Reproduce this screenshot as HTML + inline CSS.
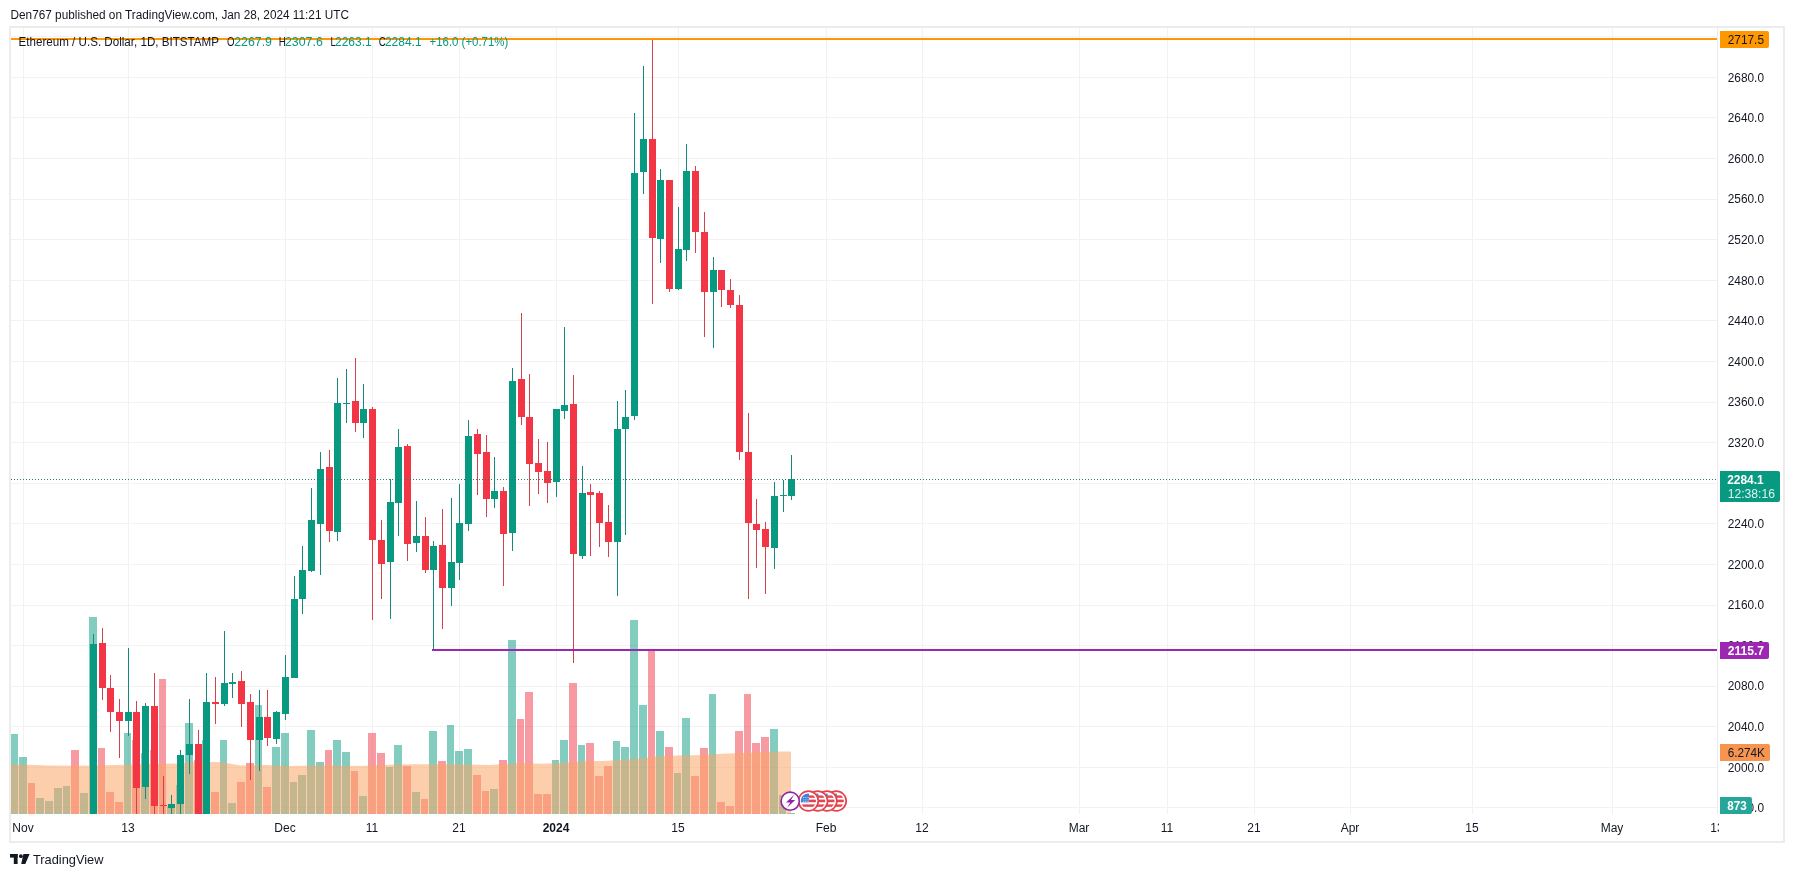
<!DOCTYPE html><html><head><meta charset="utf-8"><style>
html,body{margin:0;padding:0;background:#fff;width:1794px;height:877px;overflow:hidden;}
svg{position:absolute;left:0;top:0;will-change:transform;}
text{font-family:"Liberation Sans", sans-serif;}
</style></head><body>
<svg width="1794" height="877" viewBox="0 0 1794 877">
<defs><clipPath id="pane"><rect x="11" y="28" width="1706" height="786"/></clipPath>
<clipPath id="taxis"><rect x="11" y="814" width="1708" height="27"/></clipPath></defs>
<text x="10.5" y="19" font-size="12" fill="#131722" id="hdr" textLength="338.5" lengthAdjust="spacingAndGlyphs">Den767 published on TradingView.com, Jan 28, 2024 11:21 UTC</text>
<rect x="10" y="27" width="1774" height="815" fill="none" stroke="#ececec" stroke-width="2"/>
<g clip-path="url(#pane)" shape-rendering="crispEdges">
<rect x="11" y="807" width="1706" height="1" fill="#f2f2f2"/>
<rect x="11" y="767" width="1706" height="1" fill="#f2f2f2"/>
<rect x="11" y="726" width="1706" height="1" fill="#f2f2f2"/>
<rect x="11" y="686" width="1706" height="1" fill="#f2f2f2"/>
<rect x="11" y="645" width="1706" height="1" fill="#f2f2f2"/>
<rect x="11" y="605" width="1706" height="1" fill="#f2f2f2"/>
<rect x="11" y="564" width="1706" height="1" fill="#f2f2f2"/>
<rect x="11" y="523" width="1706" height="1" fill="#f2f2f2"/>
<rect x="11" y="483" width="1706" height="1" fill="#f2f2f2"/>
<rect x="11" y="442" width="1706" height="1" fill="#f2f2f2"/>
<rect x="11" y="402" width="1706" height="1" fill="#f2f2f2"/>
<rect x="11" y="361" width="1706" height="1" fill="#f2f2f2"/>
<rect x="11" y="320" width="1706" height="1" fill="#f2f2f2"/>
<rect x="11" y="280" width="1706" height="1" fill="#f2f2f2"/>
<rect x="11" y="239" width="1706" height="1" fill="#f2f2f2"/>
<rect x="11" y="199" width="1706" height="1" fill="#f2f2f2"/>
<rect x="11" y="158" width="1706" height="1" fill="#f2f2f2"/>
<rect x="11" y="117" width="1706" height="1" fill="#f2f2f2"/>
<rect x="11" y="77" width="1706" height="1" fill="#f2f2f2"/>
<rect x="11" y="36" width="1706" height="1" fill="#f2f2f2"/>
<rect x="23" y="28" width="1" height="786" fill="#f2f2f2"/>
<rect x="128" y="28" width="1" height="786" fill="#f2f2f2"/>
<rect x="285" y="28" width="1" height="786" fill="#f2f2f2"/>
<rect x="372" y="28" width="1" height="786" fill="#f2f2f2"/>
<rect x="459" y="28" width="1" height="786" fill="#f2f2f2"/>
<rect x="556" y="28" width="1" height="786" fill="#f2f2f2"/>
<rect x="678" y="28" width="1" height="786" fill="#f2f2f2"/>
<rect x="826" y="28" width="1" height="786" fill="#f2f2f2"/>
<rect x="922" y="28" width="1" height="786" fill="#f2f2f2"/>
<rect x="1079" y="28" width="1" height="786" fill="#f2f2f2"/>
<rect x="1167" y="28" width="1" height="786" fill="#f2f2f2"/>
<rect x="1254" y="28" width="1" height="786" fill="#f2f2f2"/>
<rect x="1350" y="28" width="1" height="786" fill="#f2f2f2"/>
<rect x="1472" y="28" width="1" height="786" fill="#f2f2f2"/>
<rect x="1612" y="28" width="1" height="786" fill="#f2f2f2"/>
<rect x="1717" y="28" width="1" height="786" fill="#f2f2f2"/>
<rect x="10" y="734" width="8" height="80" fill="rgba(8,153,129,0.5)"/>
<rect x="19" y="757" width="8" height="57" fill="rgba(8,153,129,0.5)"/>
<rect x="28" y="783" width="7" height="31" fill="rgba(242,54,69,0.5)"/>
<rect x="36" y="798" width="8" height="16" fill="rgba(8,153,129,0.5)"/>
<rect x="45" y="801" width="8" height="13" fill="rgba(8,153,129,0.5)"/>
<rect x="54" y="788" width="8" height="26" fill="rgba(8,153,129,0.5)"/>
<rect x="63" y="786" width="7" height="28" fill="rgba(8,153,129,0.5)"/>
<rect x="71" y="750" width="8" height="64" fill="rgba(242,54,69,0.5)"/>
<rect x="80" y="793" width="8" height="21" fill="rgba(8,153,129,0.5)"/>
<rect x="89" y="617" width="8" height="197" fill="rgba(8,153,129,0.5)"/>
<rect x="98" y="748" width="7" height="66" fill="rgba(242,54,69,0.5)"/>
<rect x="106" y="792" width="8" height="22" fill="rgba(242,54,69,0.5)"/>
<rect x="115" y="802" width="8" height="12" fill="rgba(242,54,69,0.5)"/>
<rect x="124" y="733" width="7" height="81" fill="rgba(8,153,129,0.5)"/>
<rect x="132" y="740" width="8" height="74" fill="rgba(242,54,69,0.5)"/>
<rect x="141" y="753" width="8" height="61" fill="rgba(8,153,129,0.5)"/>
<rect x="150" y="750" width="8" height="64" fill="rgba(242,54,69,0.5)"/>
<rect x="159" y="679" width="7" height="135" fill="rgba(242,54,69,0.5)"/>
<rect x="167" y="806" width="8" height="8" fill="rgba(8,153,129,0.5)"/>
<rect x="176" y="785" width="8" height="29" fill="rgba(8,153,129,0.5)"/>
<rect x="185" y="723" width="8" height="91" fill="rgba(8,153,129,0.5)"/>
<rect x="194" y="760" width="7" height="54" fill="rgba(242,54,69,0.5)"/>
<rect x="202" y="740" width="8" height="74" fill="rgba(8,153,129,0.5)"/>
<rect x="211" y="792" width="8" height="22" fill="rgba(242,54,69,0.5)"/>
<rect x="220" y="740" width="7" height="74" fill="rgba(8,153,129,0.5)"/>
<rect x="228" y="803" width="8" height="11" fill="rgba(8,153,129,0.5)"/>
<rect x="237" y="782" width="8" height="32" fill="rgba(242,54,69,0.5)"/>
<rect x="246" y="763" width="8" height="51" fill="rgba(242,54,69,0.5)"/>
<rect x="255" y="705" width="7" height="109" fill="rgba(8,153,129,0.5)"/>
<rect x="263" y="787" width="8" height="27" fill="rgba(242,54,69,0.5)"/>
<rect x="272" y="747" width="8" height="67" fill="rgba(8,153,129,0.5)"/>
<rect x="281" y="733" width="8" height="81" fill="rgba(8,153,129,0.5)"/>
<rect x="290" y="782" width="7" height="32" fill="rgba(8,153,129,0.5)"/>
<rect x="298" y="775" width="8" height="39" fill="rgba(8,153,129,0.5)"/>
<rect x="307" y="730" width="8" height="84" fill="rgba(8,153,129,0.5)"/>
<rect x="316" y="762" width="8" height="52" fill="rgba(8,153,129,0.5)"/>
<rect x="325" y="750" width="7" height="64" fill="rgba(242,54,69,0.5)"/>
<rect x="333" y="740" width="8" height="74" fill="rgba(8,153,129,0.5)"/>
<rect x="342" y="752" width="8" height="62" fill="rgba(8,153,129,0.5)"/>
<rect x="351" y="771" width="7" height="43" fill="rgba(242,54,69,0.5)"/>
<rect x="359" y="796" width="8" height="18" fill="rgba(8,153,129,0.5)"/>
<rect x="368" y="733" width="8" height="81" fill="rgba(242,54,69,0.5)"/>
<rect x="377" y="753" width="8" height="61" fill="rgba(242,54,69,0.5)"/>
<rect x="386" y="767" width="7" height="47" fill="rgba(8,153,129,0.5)"/>
<rect x="394" y="745" width="8" height="69" fill="rgba(8,153,129,0.5)"/>
<rect x="403" y="766" width="8" height="48" fill="rgba(242,54,69,0.5)"/>
<rect x="412" y="792" width="8" height="22" fill="rgba(8,153,129,0.5)"/>
<rect x="421" y="799" width="7" height="15" fill="rgba(242,54,69,0.5)"/>
<rect x="429" y="731" width="8" height="83" fill="rgba(8,153,129,0.5)"/>
<rect x="438" y="761" width="8" height="53" fill="rgba(242,54,69,0.5)"/>
<rect x="447" y="725" width="7" height="89" fill="rgba(8,153,129,0.5)"/>
<rect x="455" y="751" width="8" height="63" fill="rgba(8,153,129,0.5)"/>
<rect x="464" y="749" width="8" height="65" fill="rgba(8,153,129,0.5)"/>
<rect x="473" y="775" width="8" height="39" fill="rgba(242,54,69,0.5)"/>
<rect x="482" y="791" width="7" height="23" fill="rgba(242,54,69,0.5)"/>
<rect x="490" y="789" width="8" height="25" fill="rgba(8,153,129,0.5)"/>
<rect x="499" y="760" width="8" height="54" fill="rgba(242,54,69,0.5)"/>
<rect x="508" y="640" width="8" height="174" fill="rgba(8,153,129,0.5)"/>
<rect x="517" y="719" width="7" height="95" fill="rgba(242,54,69,0.5)"/>
<rect x="525" y="692" width="8" height="122" fill="rgba(242,54,69,0.5)"/>
<rect x="534" y="794" width="8" height="20" fill="rgba(242,54,69,0.5)"/>
<rect x="543" y="794" width="8" height="20" fill="rgba(242,54,69,0.5)"/>
<rect x="552" y="760" width="7" height="54" fill="rgba(8,153,129,0.5)"/>
<rect x="560" y="740" width="8" height="74" fill="rgba(8,153,129,0.5)"/>
<rect x="569" y="683" width="8" height="131" fill="rgba(242,54,69,0.5)"/>
<rect x="578" y="745" width="7" height="69" fill="rgba(8,153,129,0.5)"/>
<rect x="586" y="743" width="8" height="71" fill="rgba(242,54,69,0.5)"/>
<rect x="595" y="776" width="8" height="38" fill="rgba(242,54,69,0.5)"/>
<rect x="604" y="766" width="8" height="48" fill="rgba(242,54,69,0.5)"/>
<rect x="613" y="741" width="7" height="73" fill="rgba(8,153,129,0.5)"/>
<rect x="621" y="747" width="8" height="67" fill="rgba(8,153,129,0.5)"/>
<rect x="630" y="620" width="8" height="194" fill="rgba(8,153,129,0.5)"/>
<rect x="639" y="705" width="8" height="109" fill="rgba(8,153,129,0.5)"/>
<rect x="648" y="650" width="7" height="164" fill="rgba(242,54,69,0.5)"/>
<rect x="656" y="731" width="8" height="83" fill="rgba(8,153,129,0.5)"/>
<rect x="665" y="747" width="8" height="67" fill="rgba(242,54,69,0.5)"/>
<rect x="674" y="773" width="7" height="41" fill="rgba(8,153,129,0.5)"/>
<rect x="682" y="718" width="8" height="96" fill="rgba(8,153,129,0.5)"/>
<rect x="691" y="776" width="8" height="38" fill="rgba(242,54,69,0.5)"/>
<rect x="700" y="748" width="8" height="66" fill="rgba(242,54,69,0.5)"/>
<rect x="709" y="694" width="7" height="120" fill="rgba(8,153,129,0.5)"/>
<rect x="717" y="802" width="8" height="12" fill="rgba(242,54,69,0.5)"/>
<rect x="726" y="806" width="8" height="8" fill="rgba(242,54,69,0.5)"/>
<rect x="735" y="731" width="8" height="83" fill="rgba(242,54,69,0.5)"/>
<rect x="744" y="694" width="7" height="120" fill="rgba(242,54,69,0.5)"/>
<rect x="752" y="743" width="8" height="71" fill="rgba(242,54,69,0.5)"/>
<rect x="761" y="737" width="8" height="77" fill="rgba(242,54,69,0.5)"/>
<rect x="770" y="729" width="8" height="85" fill="rgba(8,153,129,0.5)"/>
<rect x="779" y="795" width="7" height="19" fill="rgba(8,153,129,0.5)"/>
<rect x="787" y="813" width="8" height="1" fill="rgba(8,153,129,0.5)"/>
</g>
<g clip-path="url(#pane)">
<polygon points="10.0,764.3 22.0,764.5 50.0,765.4 80.0,765.8 107.0,765.2 140.0,764.3 176.0,763.4 190.0,762.3 215.0,762.0 224.0,762.5 240.0,765.6 265.0,765.0 290.0,765.9 320.0,765.2 335.0,765.6 359.0,766.0 381.0,765.0 411.0,764.3 455.0,764.3 489.0,765.1 521.0,763.1 542.0,763.7 569.0,762.4 586.0,761.1 603.0,761.1 627.0,759.5 644.0,758.3 656.0,756.5 668.0,756.0 682.0,755.2 695.0,755.2 717.0,754.1 752.0,752.5 780.0,751.6 791.0,751.6 791,813.5 10,813.5" fill="rgba(251,166,104,0.55)"/>
</g>
<g clip-path="url(#pane)" shape-rendering="crispEdges">
<rect x="93" y="634" width="1" height="180" fill="#17897a"/>
<rect x="90" y="644" width="7" height="170" fill="#089981"/>
<rect x="102" y="628" width="1" height="72" fill="#d5404d"/>
<rect x="99" y="643" width="7" height="45" fill="#f23645"/>
<rect x="110" y="675" width="1" height="57" fill="#d5404d"/>
<rect x="107" y="688" width="7" height="24" fill="#f23645"/>
<rect x="119" y="699" width="1" height="59" fill="#d5404d"/>
<rect x="116" y="712" width="7" height="9" fill="#f23645"/>
<rect x="128" y="648" width="1" height="88" fill="#17897a"/>
<rect x="125" y="712" width="7" height="9" fill="#089981"/>
<rect x="136" y="701" width="1" height="113" fill="#d5404d"/>
<rect x="133" y="712" width="7" height="76" fill="#f23645"/>
<rect x="145" y="703" width="1" height="96" fill="#17897a"/>
<rect x="142" y="706" width="7" height="81" fill="#089981"/>
<rect x="154" y="673" width="1" height="141" fill="#d5404d"/>
<rect x="151" y="706" width="7" height="100" fill="#f23645"/>
<rect x="163" y="776" width="1" height="38" fill="#d5404d"/>
<rect x="160" y="805" width="7" height="1" fill="#f23645"/>
<rect x="171" y="795" width="1" height="19" fill="#17897a"/>
<rect x="168" y="804" width="7" height="4" fill="#089981"/>
<rect x="180" y="750" width="1" height="64" fill="#17897a"/>
<rect x="177" y="755" width="7" height="49" fill="#089981"/>
<rect x="189" y="699" width="1" height="75" fill="#17897a"/>
<rect x="186" y="744" width="7" height="11" fill="#089981"/>
<rect x="198" y="730" width="1" height="84" fill="#d5404d"/>
<rect x="195" y="744" width="7" height="70" fill="#f23645"/>
<rect x="206" y="673" width="1" height="141" fill="#17897a"/>
<rect x="203" y="702" width="7" height="112" fill="#089981"/>
<rect x="215" y="677" width="1" height="47" fill="#d5404d"/>
<rect x="212" y="702" width="7" height="2" fill="#f23645"/>
<rect x="224" y="631" width="1" height="75" fill="#17897a"/>
<rect x="221" y="683" width="7" height="21" fill="#089981"/>
<rect x="232" y="673" width="1" height="25" fill="#17897a"/>
<rect x="229" y="682" width="7" height="2" fill="#089981"/>
<rect x="241" y="671" width="1" height="56" fill="#d5404d"/>
<rect x="238" y="681" width="7" height="23" fill="#f23645"/>
<rect x="250" y="694" width="1" height="86" fill="#d5404d"/>
<rect x="247" y="702" width="7" height="38" fill="#f23645"/>
<rect x="259" y="690" width="1" height="81" fill="#17897a"/>
<rect x="256" y="717" width="7" height="23" fill="#089981"/>
<rect x="267" y="690" width="1" height="56" fill="#d5404d"/>
<rect x="264" y="717" width="7" height="21" fill="#f23645"/>
<rect x="276" y="711" width="1" height="33" fill="#17897a"/>
<rect x="273" y="712" width="7" height="27" fill="#089981"/>
<rect x="285" y="655" width="1" height="65" fill="#17897a"/>
<rect x="282" y="677" width="7" height="37" fill="#089981"/>
<rect x="294" y="576" width="1" height="102" fill="#17897a"/>
<rect x="291" y="599" width="7" height="79" fill="#089981"/>
<rect x="302" y="546" width="1" height="68" fill="#17897a"/>
<rect x="299" y="570" width="7" height="29" fill="#089981"/>
<rect x="311" y="488" width="1" height="84" fill="#17897a"/>
<rect x="308" y="520" width="7" height="51" fill="#089981"/>
<rect x="320" y="452" width="1" height="123" fill="#17897a"/>
<rect x="317" y="469" width="7" height="55" fill="#089981"/>
<rect x="329" y="450" width="1" height="92" fill="#d5404d"/>
<rect x="326" y="467" width="7" height="64" fill="#f23645"/>
<rect x="337" y="378" width="1" height="163" fill="#17897a"/>
<rect x="334" y="403" width="7" height="129" fill="#089981"/>
<rect x="346" y="369" width="1" height="54" fill="#17897a"/>
<rect x="343" y="403" width="7" height="1" fill="#089981"/>
<rect x="355" y="358" width="1" height="74" fill="#d5404d"/>
<rect x="352" y="401" width="7" height="22" fill="#f23645"/>
<rect x="363" y="384" width="1" height="54" fill="#17897a"/>
<rect x="360" y="409" width="7" height="14" fill="#089981"/>
<rect x="372" y="407" width="1" height="213" fill="#d5404d"/>
<rect x="369" y="409" width="7" height="131" fill="#f23645"/>
<rect x="381" y="520" width="1" height="79" fill="#d5404d"/>
<rect x="378" y="540" width="7" height="24" fill="#f23645"/>
<rect x="390" y="479" width="1" height="140" fill="#17897a"/>
<rect x="387" y="502" width="7" height="60" fill="#089981"/>
<rect x="398" y="429" width="1" height="107" fill="#17897a"/>
<rect x="395" y="447" width="7" height="56" fill="#089981"/>
<rect x="407" y="444" width="1" height="117" fill="#d5404d"/>
<rect x="404" y="446" width="7" height="98" fill="#f23645"/>
<rect x="416" y="501" width="1" height="51" fill="#17897a"/>
<rect x="413" y="536" width="7" height="7" fill="#089981"/>
<rect x="425" y="517" width="1" height="56" fill="#d5404d"/>
<rect x="422" y="536" width="7" height="34" fill="#f23645"/>
<rect x="433" y="541" width="1" height="108" fill="#17897a"/>
<rect x="430" y="546" width="7" height="24" fill="#089981"/>
<rect x="442" y="509" width="1" height="120" fill="#d5404d"/>
<rect x="439" y="545" width="7" height="43" fill="#f23645"/>
<rect x="451" y="498" width="1" height="108" fill="#17897a"/>
<rect x="448" y="562" width="7" height="26" fill="#089981"/>
<rect x="459" y="484" width="1" height="96" fill="#17897a"/>
<rect x="456" y="523" width="7" height="40" fill="#089981"/>
<rect x="468" y="420" width="1" height="111" fill="#17897a"/>
<rect x="465" y="436" width="7" height="88" fill="#089981"/>
<rect x="477" y="429" width="1" height="66" fill="#d5404d"/>
<rect x="474" y="434" width="7" height="20" fill="#f23645"/>
<rect x="486" y="435" width="1" height="82" fill="#d5404d"/>
<rect x="483" y="452" width="7" height="47" fill="#f23645"/>
<rect x="494" y="457" width="1" height="51" fill="#17897a"/>
<rect x="491" y="491" width="7" height="8" fill="#089981"/>
<rect x="503" y="487" width="1" height="99" fill="#d5404d"/>
<rect x="500" y="491" width="7" height="43" fill="#f23645"/>
<rect x="512" y="368" width="1" height="183" fill="#17897a"/>
<rect x="509" y="381" width="7" height="152" fill="#089981"/>
<rect x="521" y="313" width="1" height="112" fill="#d5404d"/>
<rect x="518" y="379" width="7" height="38" fill="#f23645"/>
<rect x="529" y="374" width="1" height="132" fill="#d5404d"/>
<rect x="526" y="417" width="7" height="47" fill="#f23645"/>
<rect x="538" y="439" width="1" height="55" fill="#d5404d"/>
<rect x="535" y="463" width="7" height="9" fill="#f23645"/>
<rect x="547" y="442" width="1" height="61" fill="#d5404d"/>
<rect x="544" y="471" width="7" height="12" fill="#f23645"/>
<rect x="556" y="409" width="1" height="88" fill="#17897a"/>
<rect x="553" y="409" width="7" height="73" fill="#089981"/>
<rect x="564" y="327" width="1" height="92" fill="#17897a"/>
<rect x="561" y="405" width="7" height="6" fill="#089981"/>
<rect x="573" y="375" width="1" height="288" fill="#d5404d"/>
<rect x="570" y="404" width="7" height="150" fill="#f23645"/>
<rect x="582" y="466" width="1" height="93" fill="#17897a"/>
<rect x="579" y="493" width="7" height="63" fill="#089981"/>
<rect x="590" y="484" width="1" height="72" fill="#d5404d"/>
<rect x="587" y="492" width="7" height="3" fill="#f23645"/>
<rect x="599" y="491" width="1" height="56" fill="#d5404d"/>
<rect x="596" y="493" width="7" height="30" fill="#f23645"/>
<rect x="608" y="505" width="1" height="52" fill="#d5404d"/>
<rect x="605" y="522" width="7" height="20" fill="#f23645"/>
<rect x="617" y="401" width="1" height="195" fill="#17897a"/>
<rect x="614" y="429" width="7" height="113" fill="#089981"/>
<rect x="625" y="390" width="1" height="145" fill="#17897a"/>
<rect x="622" y="417" width="7" height="12" fill="#089981"/>
<rect x="634" y="113" width="1" height="307" fill="#17897a"/>
<rect x="631" y="173" width="7" height="243" fill="#089981"/>
<rect x="643" y="66" width="1" height="128" fill="#17897a"/>
<rect x="640" y="139" width="7" height="33" fill="#089981"/>
<rect x="652" y="39" width="1" height="265" fill="#d5404d"/>
<rect x="649" y="139" width="7" height="99" fill="#f23645"/>
<rect x="660" y="169" width="1" height="94" fill="#17897a"/>
<rect x="657" y="180" width="7" height="59" fill="#089981"/>
<rect x="669" y="180" width="1" height="112" fill="#d5404d"/>
<rect x="666" y="180" width="7" height="109" fill="#f23645"/>
<rect x="678" y="207" width="1" height="83" fill="#17897a"/>
<rect x="675" y="249" width="7" height="40" fill="#089981"/>
<rect x="686" y="144" width="1" height="117" fill="#17897a"/>
<rect x="683" y="171" width="7" height="79" fill="#089981"/>
<rect x="695" y="166" width="1" height="87" fill="#d5404d"/>
<rect x="692" y="171" width="7" height="61" fill="#f23645"/>
<rect x="704" y="212" width="1" height="125" fill="#d5404d"/>
<rect x="701" y="232" width="7" height="60" fill="#f23645"/>
<rect x="713" y="257" width="1" height="91" fill="#17897a"/>
<rect x="710" y="270" width="7" height="22" fill="#089981"/>
<rect x="721" y="270" width="1" height="37" fill="#d5404d"/>
<rect x="718" y="270" width="7" height="20" fill="#f23645"/>
<rect x="730" y="279" width="1" height="29" fill="#d5404d"/>
<rect x="727" y="290" width="7" height="15" fill="#f23645"/>
<rect x="739" y="295" width="1" height="165" fill="#d5404d"/>
<rect x="736" y="305" width="7" height="147" fill="#f23645"/>
<rect x="748" y="413" width="1" height="186" fill="#d5404d"/>
<rect x="745" y="452" width="7" height="71" fill="#f23645"/>
<rect x="756" y="499" width="1" height="69" fill="#d5404d"/>
<rect x="753" y="524" width="7" height="6" fill="#f23645"/>
<rect x="765" y="522" width="1" height="72" fill="#d5404d"/>
<rect x="762" y="529" width="7" height="18" fill="#f23645"/>
<rect x="774" y="482" width="1" height="87" fill="#17897a"/>
<rect x="771" y="496" width="7" height="52" fill="#089981"/>
<rect x="783" y="480" width="1" height="32" fill="#17897a"/>
<rect x="780" y="495" width="7" height="1" fill="#089981"/>
<rect x="791" y="455" width="1" height="45" fill="#17897a"/>
<rect x="788" y="479" width="7" height="17" fill="#089981"/>
</g>
<g clip-path="url(#pane)" shape-rendering="crispEdges">
<rect x="11" y="38" width="1706" height="2" fill="#ff9800"/>
<rect x="432" y="649" width="1285" height="2" fill="#9c27b0"/>
<line x1="11" y1="479.5" x2="1717" y2="479.5" stroke="#2b7a6e" stroke-width="1" stroke-dasharray="1 2"/>
</g>
<text x="18.5" y="46" font-size="12" fill="#131722" id="legend" textLength="200.5" lengthAdjust="spacingAndGlyphs">Ethereum / U.S. Dollar, 1D, BITSTAMP</text>
<text x="227.0" y="46" font-size="12" fill="#131722" textLength="7.5" lengthAdjust="spacingAndGlyphs">O</text>
<text x="234.2" y="46" font-size="12" fill="#089981" textLength="37.8" lengthAdjust="spacingAndGlyphs">2267.9</text>
<text x="278.8" y="46" font-size="12" fill="#131722" textLength="7.1" lengthAdjust="spacingAndGlyphs">H</text>
<text x="285.0" y="46" font-size="12" fill="#089981" textLength="37.8" lengthAdjust="spacingAndGlyphs">2307.6</text>
<text x="330.5" y="46" font-size="12" fill="#131722" textLength="5.3" lengthAdjust="spacingAndGlyphs">L</text>
<text x="335.0" y="46" font-size="12" fill="#089981" textLength="36.7" lengthAdjust="spacingAndGlyphs">2263.1</text>
<text x="378.7" y="46" font-size="12" fill="#131722" textLength="7.1" lengthAdjust="spacingAndGlyphs">C</text>
<text x="384.9" y="46" font-size="12" fill="#089981" textLength="36.7" lengthAdjust="spacingAndGlyphs">2284.1</text>
<text x="429.5" y="46" font-size="12" fill="#089981" textLength="78.8" lengthAdjust="spacingAndGlyphs">+16.0 (+0.71%)</text>
<rect x="1717" y="28" width="1" height="786" fill="#ececec" shape-rendering="crispEdges"/>
<text x="1727.7" y="812.2" font-size="12" fill="#131722" textLength="36.3" lengthAdjust="spacingAndGlyphs">1960.0</text>
<text x="1727.7" y="771.6" font-size="12" fill="#131722" textLength="36.3" lengthAdjust="spacingAndGlyphs">2000.0</text>
<text x="1727.7" y="731.0" font-size="12" fill="#131722" textLength="36.3" lengthAdjust="spacingAndGlyphs">2040.0</text>
<text x="1727.7" y="690.4" font-size="12" fill="#131722" textLength="36.3" lengthAdjust="spacingAndGlyphs">2080.0</text>
<text x="1727.7" y="649.8" font-size="12" fill="#131722" textLength="36.3" lengthAdjust="spacingAndGlyphs">2120.0</text>
<text x="1727.7" y="609.2" font-size="12" fill="#131722" textLength="36.3" lengthAdjust="spacingAndGlyphs">2160.0</text>
<text x="1727.7" y="568.6" font-size="12" fill="#131722" textLength="36.3" lengthAdjust="spacingAndGlyphs">2200.0</text>
<text x="1727.7" y="528.0" font-size="12" fill="#131722" textLength="36.3" lengthAdjust="spacingAndGlyphs">2240.0</text>
<text x="1727.7" y="487.4" font-size="12" fill="#131722" textLength="36.3" lengthAdjust="spacingAndGlyphs">2280.0</text>
<text x="1727.7" y="446.8" font-size="12" fill="#131722" textLength="36.3" lengthAdjust="spacingAndGlyphs">2320.0</text>
<text x="1727.7" y="406.3" font-size="12" fill="#131722" textLength="36.3" lengthAdjust="spacingAndGlyphs">2360.0</text>
<text x="1727.7" y="365.7" font-size="12" fill="#131722" textLength="36.3" lengthAdjust="spacingAndGlyphs">2400.0</text>
<text x="1727.7" y="325.1" font-size="12" fill="#131722" textLength="36.3" lengthAdjust="spacingAndGlyphs">2440.0</text>
<text x="1727.7" y="284.5" font-size="12" fill="#131722" textLength="36.3" lengthAdjust="spacingAndGlyphs">2480.0</text>
<text x="1727.7" y="243.9" font-size="12" fill="#131722" textLength="36.3" lengthAdjust="spacingAndGlyphs">2520.0</text>
<text x="1727.7" y="203.3" font-size="12" fill="#131722" textLength="36.3" lengthAdjust="spacingAndGlyphs">2560.0</text>
<text x="1727.7" y="162.7" font-size="12" fill="#131722" textLength="36.3" lengthAdjust="spacingAndGlyphs">2600.0</text>
<text x="1727.7" y="122.1" font-size="12" fill="#131722" textLength="36.3" lengthAdjust="spacingAndGlyphs">2640.0</text>
<text x="1727.7" y="81.5" font-size="12" fill="#131722" textLength="36.3" lengthAdjust="spacingAndGlyphs">2680.0</text>
<text x="1727.7" y="40.9" font-size="12" fill="#131722" textLength="36.3" lengthAdjust="spacingAndGlyphs">2720.0</text>
<g clip-path="url(#taxis)">
<text x="23" y="832" font-size="12" fill="#131722" text-anchor="middle">Nov</text>
<text x="128" y="832" font-size="12" fill="#131722" text-anchor="middle">13</text>
<text x="285" y="832" font-size="12" fill="#131722" text-anchor="middle">Dec</text>
<text x="372" y="832" font-size="12" fill="#131722" text-anchor="middle">11</text>
<text x="459" y="832" font-size="12" fill="#131722" text-anchor="middle">21</text>
<text x="556" y="832" font-size="12" fill="#131722" text-anchor="middle" font-weight="bold">2024</text>
<text x="678" y="832" font-size="12" fill="#131722" text-anchor="middle">15</text>
<text x="826" y="832" font-size="12" fill="#131722" text-anchor="middle">Feb</text>
<text x="922" y="832" font-size="12" fill="#131722" text-anchor="middle">12</text>
<text x="1079" y="832" font-size="12" fill="#131722" text-anchor="middle">Mar</text>
<text x="1167" y="832" font-size="12" fill="#131722" text-anchor="middle">11</text>
<text x="1254" y="832" font-size="12" fill="#131722" text-anchor="middle">21</text>
<text x="1350" y="832" font-size="12" fill="#131722" text-anchor="middle">Apr</text>
<text x="1472" y="832" font-size="12" fill="#131722" text-anchor="middle">15</text>
<text x="1612" y="832" font-size="12" fill="#131722" text-anchor="middle">May</text>
<text x="1717" y="832" font-size="12" fill="#131722" text-anchor="middle">13</text>
</g>
<g>
<path d="M1720.0,31.0 h47.0 a2,2 0 0 1 2,2 v13.0 a2,2 0 0 1 -2,2 h-47.0 z" fill="#ff9800"/>
<text x="1727.7" y="44" font-size="12" fill="#131722" textLength="36.3" lengthAdjust="spacingAndGlyphs">2717.5</text>
<path d="M1720.0,471.0 h58.0 a2,2 0 0 1 2,2 v27.0 a2,2 0 0 1 -2,2 h-58.0 z" fill="#089981"/>
<text x="1727.2" y="484" font-size="12" fill="#fff" font-weight="bold" textLength="36.4" lengthAdjust="spacingAndGlyphs">2284.1</text>
<text x="1727.7" y="497.6" font-size="12" fill="#e0f2f1" textLength="47.3" lengthAdjust="spacingAndGlyphs">12:38:16</text>
<path d="M1720.0,642.0 h47.0 a2,2 0 0 1 2,2 v13.0 a2,2 0 0 1 -2,2 h-47.0 z" fill="#9c27b0"/>
<text x="1727.7" y="655" font-size="12" fill="#fff" font-weight="bold" textLength="36.3" lengthAdjust="spacingAndGlyphs">2115.7</text>
<path d="M1720.0,744.0 h48.0 a2,2 0 0 1 2,2 v13.0 a2,2 0 0 1 -2,2 h-48.0 z" fill="#f7944f"/>
<text x="1727.7" y="757" font-size="12" fill="#131722" textLength="37.2" lengthAdjust="spacingAndGlyphs">6.274K</text>
<path d="M1720.0,797.0 h30.0 a2,2 0 0 1 2,2 v13.0 a2,2 0 0 1 -2,2 h-30.0 z" fill="#26a69a"/>
<text x="1727.2" y="809.5" font-size="12" fill="#fff" font-weight="bold" textLength="19.5" lengthAdjust="spacingAndGlyphs">873</text>
</g>
<g>
<clipPath id="fc8363"><circle cx="836.30" cy="801.00" r="7.6"/></clipPath>
<circle cx="836.30" cy="801.00" r="9.9" fill="#fff" stroke="#e5434d" stroke-width="1.7"/>
<g clip-path="url(#fc8363)">
<rect x="828.30" y="793.00" width="16" height="16" fill="#fff"/>
<rect x="828.30" y="795.40" width="16" height="2.4" fill="#e5434d"/>
<rect x="828.30" y="799.60" width="16" height="2.6" fill="#e5434d"/>
<rect x="828.30" y="804.40" width="16" height="2.4" fill="#e5434d"/>
<rect x="828.30" y="793.00" width="8.6" height="9.2" fill="#3f80d8"/>
<rect x="831.10" y="797.00" width="1" height="1" fill="#cfe6ff"/>
<rect x="831.10" y="799.40" width="1" height="1" fill="#cfe6ff"/>
<rect x="831.10" y="801.20" width="1" height="1" fill="#cfe6ff"/>
<rect x="833.30" y="797.00" width="1" height="1" fill="#cfe6ff"/>
<rect x="833.30" y="799.40" width="1" height="1" fill="#cfe6ff"/>
<rect x="833.30" y="801.20" width="1" height="1" fill="#cfe6ff"/>
<rect x="835.50" y="797.00" width="1" height="1" fill="#cfe6ff"/>
<rect x="835.50" y="799.40" width="1" height="1" fill="#cfe6ff"/>
<rect x="835.50" y="801.20" width="1" height="1" fill="#cfe6ff"/>
</g>
<clipPath id="fc8270"><circle cx="827.00" cy="801.00" r="7.6"/></clipPath>
<circle cx="827.00" cy="801.00" r="9.9" fill="#fff" stroke="#e5434d" stroke-width="1.7"/>
<g clip-path="url(#fc8270)">
<rect x="819.00" y="793.00" width="16" height="16" fill="#fff"/>
<rect x="819.00" y="795.40" width="16" height="2.4" fill="#e5434d"/>
<rect x="819.00" y="799.60" width="16" height="2.6" fill="#e5434d"/>
<rect x="819.00" y="804.40" width="16" height="2.4" fill="#e5434d"/>
<rect x="819.00" y="793.00" width="8.6" height="9.2" fill="#3f80d8"/>
<rect x="821.80" y="797.00" width="1" height="1" fill="#cfe6ff"/>
<rect x="821.80" y="799.40" width="1" height="1" fill="#cfe6ff"/>
<rect x="821.80" y="801.20" width="1" height="1" fill="#cfe6ff"/>
<rect x="824.00" y="797.00" width="1" height="1" fill="#cfe6ff"/>
<rect x="824.00" y="799.40" width="1" height="1" fill="#cfe6ff"/>
<rect x="824.00" y="801.20" width="1" height="1" fill="#cfe6ff"/>
<rect x="826.20" y="797.00" width="1" height="1" fill="#cfe6ff"/>
<rect x="826.20" y="799.40" width="1" height="1" fill="#cfe6ff"/>
<rect x="826.20" y="801.20" width="1" height="1" fill="#cfe6ff"/>
</g>
<clipPath id="fc8177"><circle cx="817.70" cy="801.00" r="7.6"/></clipPath>
<circle cx="817.70" cy="801.00" r="9.9" fill="#fff" stroke="#e5434d" stroke-width="1.7"/>
<g clip-path="url(#fc8177)">
<rect x="809.70" y="793.00" width="16" height="16" fill="#fff"/>
<rect x="809.70" y="795.40" width="16" height="2.4" fill="#e5434d"/>
<rect x="809.70" y="799.60" width="16" height="2.6" fill="#e5434d"/>
<rect x="809.70" y="804.40" width="16" height="2.4" fill="#e5434d"/>
<rect x="809.70" y="793.00" width="8.6" height="9.2" fill="#3f80d8"/>
<rect x="812.50" y="797.00" width="1" height="1" fill="#cfe6ff"/>
<rect x="812.50" y="799.40" width="1" height="1" fill="#cfe6ff"/>
<rect x="812.50" y="801.20" width="1" height="1" fill="#cfe6ff"/>
<rect x="814.70" y="797.00" width="1" height="1" fill="#cfe6ff"/>
<rect x="814.70" y="799.40" width="1" height="1" fill="#cfe6ff"/>
<rect x="814.70" y="801.20" width="1" height="1" fill="#cfe6ff"/>
<rect x="816.90" y="797.00" width="1" height="1" fill="#cfe6ff"/>
<rect x="816.90" y="799.40" width="1" height="1" fill="#cfe6ff"/>
<rect x="816.90" y="801.20" width="1" height="1" fill="#cfe6ff"/>
</g>
<clipPath id="fc8084"><circle cx="808.40" cy="801.00" r="7.6"/></clipPath>
<circle cx="808.40" cy="801.00" r="9.9" fill="#fff" stroke="#e5434d" stroke-width="1.7"/>
<g clip-path="url(#fc8084)">
<rect x="800.40" y="793.00" width="16" height="16" fill="#fff"/>
<rect x="800.40" y="795.40" width="16" height="2.4" fill="#e5434d"/>
<rect x="800.40" y="799.60" width="16" height="2.6" fill="#e5434d"/>
<rect x="800.40" y="804.40" width="16" height="2.4" fill="#e5434d"/>
<rect x="800.40" y="793.00" width="8.6" height="9.2" fill="#3f80d8"/>
<rect x="803.20" y="797.00" width="1" height="1" fill="#cfe6ff"/>
<rect x="803.20" y="799.40" width="1" height="1" fill="#cfe6ff"/>
<rect x="803.20" y="801.20" width="1" height="1" fill="#cfe6ff"/>
<rect x="805.40" y="797.00" width="1" height="1" fill="#cfe6ff"/>
<rect x="805.40" y="799.40" width="1" height="1" fill="#cfe6ff"/>
<rect x="805.40" y="801.20" width="1" height="1" fill="#cfe6ff"/>
<rect x="807.60" y="797.00" width="1" height="1" fill="#cfe6ff"/>
<rect x="807.60" y="799.40" width="1" height="1" fill="#cfe6ff"/>
<rect x="807.60" y="801.20" width="1" height="1" fill="#cfe6ff"/>
</g>
<circle cx="790.2" cy="801.2" r="9.1" fill="#fff" stroke="#8e24aa" stroke-width="1.6"/>
<path d="M794.2,794.8 L786,802.6 L790.2,802.6 L787,807.8 L795.2,800 L791,800 Z" fill="#8e24aa"/>
</g>
<g fill="#131722">
<rect x="10" y="854" width="7.6" height="3.6"/>
<rect x="13.8" y="854" width="3.8" height="10"/>
<circle cx="20.9" cy="856.2" r="1.9"/>
<path d="M23.4,854 L29.6,854 L25.3,864 L21.2,864 Z"/>
</g>
<text x="33" y="864" font-size="13" fill="#131722" id="tvtext" textLength="70.5" lengthAdjust="spacingAndGlyphs">TradingView</text>
</svg></body></html>
